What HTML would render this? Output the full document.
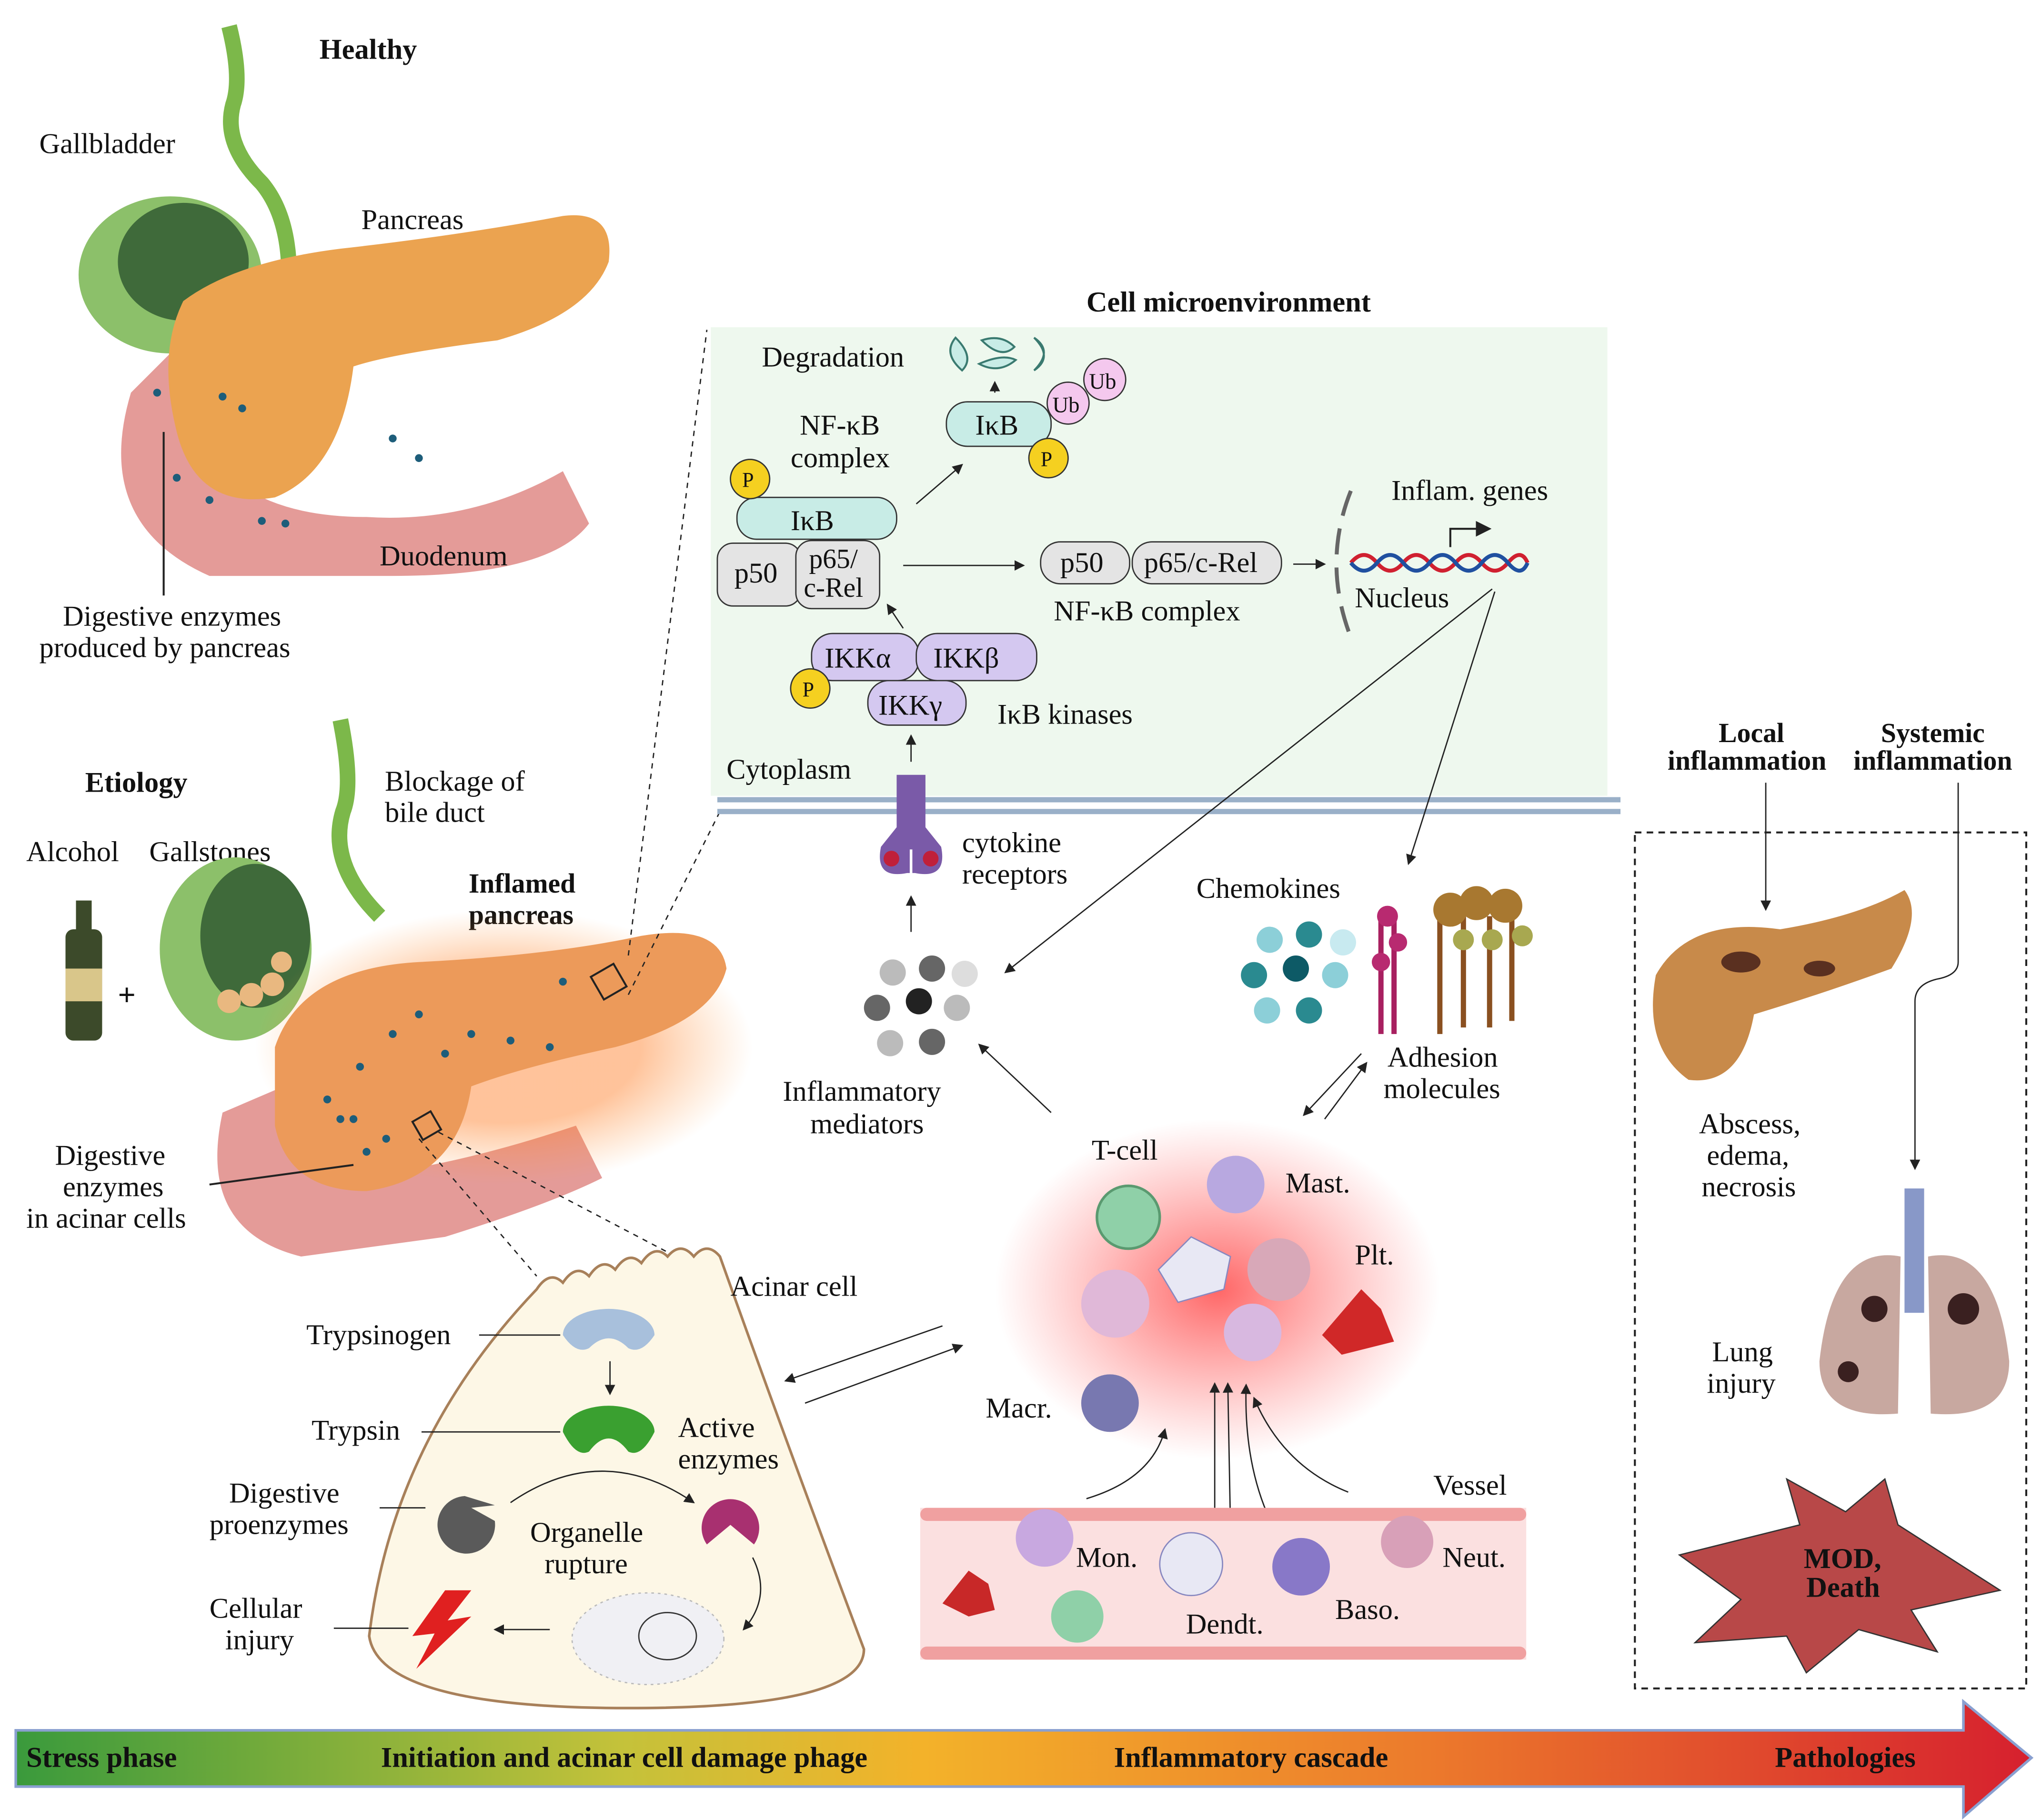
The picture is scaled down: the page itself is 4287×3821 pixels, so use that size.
<!DOCTYPE html>
<html><head><meta charset="utf-8"><style>
html,body{margin:0;padding:0;background:#fff;}
svg{display:block;}
text{font-family:"Liberation Serif",serif;fill:#111;}
.b{font-weight:bold;}
</style></head><body>
<svg width="4287" height="3821" viewBox="0 0 1560 1390.5" xmlns="http://www.w3.org/2000/svg">
<defs>
<linearGradient id="bar" x1="0" x2="1" y1="0" y2="0">
<stop offset="0" stop-color="#3a9a3c"/><stop offset="0.3" stop-color="#c4c23a"/><stop offset="0.45" stop-color="#f3b22a"/><stop offset="0.7" stop-color="#ec7a2c"/><stop offset="1" stop-color="#d6202e"/></linearGradient>
<radialGradient id="glow"><stop offset="0" stop-color="#ff4040" stop-opacity="0.8"/><stop offset="1" stop-color="#ff6060" stop-opacity="0"/></radialGradient>
<radialGradient id="pglow"><stop offset="0.55" stop-color="#ff7a20" stop-opacity="0.45"/><stop offset="1" stop-color="#ff9a40" stop-opacity="0"/></radialGradient>
<marker id="ar" markerWidth="8" markerHeight="8" refX="7" refY="4" orient="auto"><path d="M0,0 L8,4 L0,8 z" fill="#222"/></marker>
</defs>
<rect width="1560" height="1391" fill="#fff"/>

<!-- Healthy -->
<text x="244" y="45" font-size="22" class="b">Healthy</text>
<path d="M175 20 Q185 60 178 80 Q170 110 200 140 Q225 170 220 230" stroke="#7cb84a" stroke-width="12" fill="none"/>
<path d="M100 300 Q70 400 160 440 L300 440 Q420 440 450 400 L430 360 Q360 400 280 395 Q180 395 150 330 Q140 280 160 240 Z" fill="#e49b98"/>
<ellipse cx="130" cy="210" rx="70" ry="60" fill="#8cc06a"/>
<ellipse cx="140" cy="200" rx="50" ry="45" fill="#3f6a3a"/>
<path d="M140 230 Q180 200 260 190 Q350 180 430 165 Q470 160 465 200 Q450 240 380 260 Q300 270 270 280 Q260 360 210 380 Q150 390 135 330 Q120 270 140 230Z" fill="#eba350"/>
<text x="30" y="117" font-size="22">Gallbladder</text>
<text x="276" y="175" font-size="22">Pancreas</text>
<text x="290" y="432" font-size="22">Duodenum</text>
<text x="48" y="478" font-size="22">Digestive enzymes</text>
<text x="30" y="502" font-size="22">produced by pancreas</text>
<line x1="125" y1="330" x2="125" y2="455" stroke="#222" stroke-width="1.5"/>
<g fill="#1d5d7a"><circle cx="120" cy="300" r="3"/><circle cx="135" cy="365" r="3"/><circle cx="170" cy="303" r="3"/><circle cx="185" cy="312" r="3"/><circle cx="300" cy="335" r="3"/><circle cx="320" cy="350" r="3"/><circle cx="200" cy="398" r="3"/><circle cx="218" cy="400" r="3"/><circle cx="160" cy="382" r="3"/></g>

<!-- Etiology -->
<text x="65" y="605" font-size="22" class="b">Etiology</text>
<text x="20" y="658" font-size="22">Alcohol</text>
<text x="114" y="658" font-size="22">Gallstones</text>
<text x="294" y="604" font-size="22">Blockage of</text>
<text x="294" y="628" font-size="22">bile duct</text>
<text x="358" y="682" font-size="21" class="b">Inflamed</text>
<text x="358" y="706" font-size="21" class="b">pancreas</text>
<rect x="50" y="710" width="28" height="85" rx="6" fill="#3c4a2a"/><rect x="58" y="688" width="12" height="30" fill="#3c4a2a"/><rect x="50" y="740" width="28" height="25" fill="#d9c68a"/>
<text x="90" y="768" font-size="24" class="b">+</text>
<path d="M260 550 Q270 600 262 620 Q250 660 290 700" stroke="#7cb84a" stroke-width="12" fill="none"/>
<ellipse cx="180" cy="725" rx="58" ry="70" fill="#8cc06a"/>
<ellipse cx="195" cy="715" rx="42" ry="55" fill="#3f6a3a"/>
<g fill="#e9b880"><circle cx="175" cy="765" r="9"/><circle cx="192" cy="760" r="9"/><circle cx="208" cy="752" r="9"/><circle cx="215" cy="735" r="8"/></g>
<path d="M170 850 Q150 940 230 960 L340 945 Q420 920 460 900 L440 860 Q380 880 330 890 Q260 890 240 820 Z" fill="#e49b98"/>
<ellipse cx="385" cy="800" rx="190" ry="105" fill="url(#pglow)"/>
<path d="M210 800 Q230 740 320 735 Q420 730 490 715 Q550 705 555 740 Q545 780 470 800 Q400 815 360 830 Q350 900 280 910 Q220 910 210 860 Z" fill="#ec9a5a"/>
<g fill="#1d5d7a"><circle cx="250" cy="840" r="3"/><circle cx="270" cy="855" r="3"/><circle cx="295" cy="870" r="3"/><circle cx="280" cy="880" r="3"/><circle cx="300" cy="790" r="3"/><circle cx="320" cy="775" r="3"/><circle cx="340" cy="805" r="3"/><circle cx="360" cy="790" r="3"/><circle cx="390" cy="795" r="3"/><circle cx="420" cy="800" r="3"/><circle cx="430" cy="750" r="3"/><circle cx="275" cy="815" r="3"/><circle cx="260" cy="855" r="3"/></g>
<text x="42" y="890" font-size="22">Digestive</text>
<text x="48" y="914" font-size="22">enzymes</text>
<text x="20" y="938" font-size="22">in acinar cells</text>
<line x1="160" y1="905" x2="270" y2="890" stroke="#222" stroke-width="1.5"/>
<rect x="455" y="740" width="20" height="20" fill="none" stroke="#222" stroke-width="1.5" transform="rotate(-30 465 750)"/>
<rect x="318" y="852" width="16" height="16" fill="none" stroke="#222" stroke-width="1.5" transform="rotate(-30 326 860)"/>
<line x1="480" y1="730" x2="540" y2="252" stroke="#222" stroke-dasharray="4 4"/>
<line x1="480" y1="760" x2="550" y2="620" stroke="#222" stroke-dasharray="4 4"/>
<line x1="320" y1="870" x2="410" y2="975" stroke="#222" stroke-dasharray="4 4"/>
<line x1="335" y1="865" x2="545" y2="975" stroke="#222" stroke-dasharray="4 4"/>

<!-- Cell microenvironment -->
<text x="830" y="238" font-size="22" class="b">Cell microenvironment</text>
<rect x="543" y="250" width="685" height="358" fill="#eef8ee"/>
<line x1="548" y1="611" x2="1238" y2="611" stroke="#9ab0c8" stroke-width="4"/>
<line x1="548" y1="620" x2="1238" y2="620" stroke="#9ab0c8" stroke-width="4"/>
<text x="582" y="280" font-size="22">Degradation</text>
<g fill="#c8ece6" stroke="#3a7a70" stroke-width="1.5"><path d="M730 258 q-10 12 5 25 q10 -10 -5 -25z"/><path d="M750 260 q15 -5 25 5 q-10 10 -25 -5z"/><path d="M748 278 q15 8 28 -3 q-10 -5 -28 3z"/><path d="M790 258 q15 10 0 25 q15 -10 0 -25z"/></g>
<line x1="760" y1="300" x2="760" y2="292" stroke="#222" marker-end="url(#ar)"/>
<rect x="723" y="307" width="80" height="34" rx="16" fill="#c8ece6" stroke="#333"/>
<text x="745" y="332" font-size="22">IκB</text>
<circle cx="816" cy="308" r="16" fill="#f4c8ee" stroke="#333"/><text x="804" y="315" font-size="17">Ub</text>
<circle cx="844" cy="290" r="16" fill="#f4c8ee" stroke="#333"/><text x="832" y="297" font-size="17">Ub</text>
<circle cx="801" cy="350" r="15" fill="#f5d020" stroke="#333"/><text x="795" y="356" font-size="16">P</text>
<text x="611" y="332" font-size="22">NF-κB</text>
<text x="604" y="357" font-size="22">complex</text>
<line x1="700" y1="385" x2="735" y2="355" stroke="#222" marker-end="url(#ar)"/>
<rect x="563" y="380" width="122" height="32" rx="15" fill="#c8ece6" stroke="#333"/>
<text x="604" y="405" font-size="22">IκB</text>
<circle cx="573" cy="366" r="15" fill="#f5d020" stroke="#333"/><text x="567" y="372" font-size="16">P</text>
<rect x="548" y="415" width="64" height="48" rx="12" fill="#e4e4e4" stroke="#333"/>
<text x="561" y="445" font-size="22">p50</text>
<rect x="608" y="413" width="64" height="52" rx="12" fill="#e4e4e4" stroke="#333"/>
<text x="618" y="434" font-size="21">p65/</text><text x="614" y="456" font-size="21">c-Rel</text>
<line x1="690" y1="432" x2="782" y2="432" stroke="#222" marker-end="url(#ar)"/>
<rect x="795" y="414" width="68" height="32" rx="15" fill="#e4e4e4" stroke="#333"/>
<text x="810" y="437" font-size="22">p50</text>
<rect x="865" y="414" width="114" height="32" rx="15" fill="#e4e4e4" stroke="#333"/>
<text x="874" y="437" font-size="22">p65/c-Rel</text>
<text x="805" y="474" font-size="22">NF-κB complex</text>
<line x1="988" y1="431" x2="1012" y2="431" stroke="#222" marker-end="url(#ar)"/>
<path d="M1032 375 Q1010 430 1032 487" stroke="#666" stroke-width="3" fill="none" stroke-dasharray="20 10"/>
<text x="1063" y="382" font-size="22">Inflam. genes</text>
<path d="M1032 430 q10 -12 20 0 t20 0 t20 0 t20 0 t20 0 t20 0 t15 0" stroke="#d02030" stroke-width="3" fill="none"/>
<path d="M1032 430 q10 12 20 0 t20 0 t20 0 t20 0 t20 0 t20 0 t15 0" stroke="#2050a0" stroke-width="3" fill="none"/>
<path d="M1108 418 V404 H1138" stroke="#222" stroke-width="1.5" fill="none" marker-end="url(#ar)"/>
<text x="1035" y="464" font-size="22">Nucleus</text>
<line x1="690" y1="480" x2="678" y2="462" stroke="#222" marker-end="url(#ar)"/>
<rect x="620" y="484" width="82" height="36" rx="16" fill="#d4c8f0" stroke="#333"/>
<text x="630" y="510" font-size="22">IKKα</text>
<rect x="700" y="484" width="92" height="36" rx="16" fill="#d4c8f0" stroke="#333"/>
<text x="713" y="510" font-size="22">IKKβ</text>
<rect x="663" y="520" width="75" height="34" rx="16" fill="#d4c8f0" stroke="#333"/>
<text x="671" y="546" font-size="22">IKKγ</text>
<circle cx="619" cy="526" r="15" fill="#f5d020" stroke="#333"/><text x="613" y="532" font-size="16">P</text>
<text x="762" y="553" font-size="22">IκB kinases</text>
<text x="555" y="595" font-size="22">Cytoplasm</text>
<line x1="696" y1="582" x2="696" y2="562" stroke="#222" marker-end="url(#ar)"/>
<path d="M685 592 h22 v40 l12 15 q5 25 -20 20 h-2 v-18 h-2 v18 h-2 q-25 5 -20 -20 l12 -15 z" fill="#7a5aa8"/>
<circle cx="681" cy="656" r="6" fill="#c0203a"/><circle cx="711" cy="656" r="6" fill="#c0203a"/>
<text x="735" y="651" font-size="22">cytokine</text><text x="735" y="675" font-size="22">receptors</text>
<line x1="696" y1="712" x2="696" y2="685" stroke="#222" marker-end="url(#ar)"/>
<g><circle cx="682" cy="743" r="10" fill="#bbb"/><circle cx="712" cy="740" r="10" fill="#666"/><circle cx="737" cy="744" r="10" fill="#ddd"/><circle cx="670" cy="770" r="10" fill="#666"/><circle cx="702" cy="765" r="10" fill="#222"/><circle cx="731" cy="770" r="10" fill="#bbb"/><circle cx="680" cy="797" r="10" fill="#bbb"/><circle cx="712" cy="796" r="10" fill="#666"/></g>
<text x="598" y="841" font-size="22">Inflammatory</text><text x="619" y="866" font-size="22">mediators</text>
<line x1="1140" y1="450" x2="768" y2="743" stroke="#222" marker-end="url(#ar)"/>
<line x1="1142" y1="452" x2="1076" y2="660" stroke="#222" marker-end="url(#ar)"/>
<text x="914" y="686" font-size="22">Chemokines</text>
<g><circle cx="970" cy="718" r="10" fill="#8ccfd8"/><circle cx="1000" cy="714" r="10" fill="#2a8a90"/><circle cx="1026" cy="720" r="10" fill="#c8eaf0"/><circle cx="958" cy="745" r="10" fill="#2a8a90"/><circle cx="990" cy="740" r="10" fill="#0d5a66"/><circle cx="1020" cy="745" r="10" fill="#8ccfd8"/><circle cx="968" cy="772" r="10" fill="#8ccfd8"/><circle cx="1000" cy="772" r="10" fill="#2a8a90"/></g>
<g stroke="#a82060" stroke-width="4"><line x1="1055" y1="700" x2="1055" y2="790"/><line x1="1065" y1="700" x2="1065" y2="790"/></g>
<g fill="#b82a70"><circle cx="1060" cy="700" r="8"/><circle cx="1068" cy="720" r="7"/><circle cx="1055" cy="735" r="7"/></g>
<g stroke="#8a5020" stroke-width="4"><line x1="1100" y1="700" x2="1100" y2="790"/><line x1="1118" y1="700" x2="1118" y2="785"/><line x1="1138" y1="700" x2="1138" y2="785"/><line x1="1155" y1="700" x2="1155" y2="780"/></g>
<g fill="#a87830"><circle cx="1108" cy="695" r="13"/><circle cx="1128" cy="690" r="13"/><circle cx="1150" cy="692" r="13"/></g>
<g fill="#a8a850"><circle cx="1118" cy="718" r="8"/><circle cx="1140" cy="718" r="8"/><circle cx="1163" cy="715" r="8"/></g>
<text x="1060" y="815" font-size="22">Adhesion</text><text x="1057" y="839" font-size="22">molecules</text>
<line x1="1040" y1="805" x2="996" y2="852" stroke="#222" marker-end="url(#ar)"/>
<line x1="1012" y1="855" x2="1044" y2="812" stroke="#222" marker-end="url(#ar)"/>
<line x1="803" y1="850" x2="748" y2="798" stroke="#222" marker-end="url(#ar)"/>

<!-- Immune cells -->
<ellipse cx="930" cy="985" rx="170" ry="130" fill="url(#glow)"/>
<text x="834" y="886" font-size="22">T-cell</text>
<text x="982" y="911" font-size="22">Mast.</text>
<text x="1035" y="966" font-size="22">Plt.</text>
<text x="753" y="1083" font-size="22">Macr.</text>
<circle cx="862" cy="930" r="24" fill="#8fd0a8" stroke="#5a9a70" stroke-width="2"/>
<circle cx="944" cy="905" r="22" fill="#b8a8e0"/>
<circle cx="852" cy="996" r="26" fill="#e0b8d8"/>
<path d="M910 945 l30 15 l-5 25 l-35 10 l-15 -25 z" fill="#e8e8f4" stroke="#8888c0"/>
<circle cx="977" cy="970" r="24" fill="#d8a8b8"/>
<circle cx="957" cy="1018" r="22" fill="#d8b8e0"/>
<path d="M1040 985 l15 15 l10 25 l-20 5 l-20 5 l-15 -15 z" fill="#d02828"/>
<circle cx="848" cy="1072" r="22" fill="#7878b0"/>
<line x1="928" y1="1165" x2="928" y2="1057" stroke="#222" marker-end="url(#ar)"/>
<line x1="940" y1="1165" x2="938" y2="1057" stroke="#222" marker-end="url(#ar)"/>
<path d="M972 1165 Q950 1120 952 1058" stroke="#222" fill="none" marker-end="url(#ar)"/>
<path d="M1030 1140 Q980 1120 958 1068" stroke="#222" fill="none" marker-end="url(#ar)"/>
<path d="M830 1145 Q880 1130 890 1092" stroke="#222" fill="none" marker-end="url(#ar)"/>

<!-- Vessel -->
<rect x="703" y="1152" width="463" height="116" fill="#fbe0e0"/>
<rect x="703" y="1152" width="463" height="10" rx="5" fill="#f0a0a0"/>
<rect x="703" y="1258" width="463" height="10" rx="5" fill="#f0a0a0"/>
<text x="1095" y="1142" font-size="22">Vessel</text>
<text x="822" y="1197" font-size="22">Mon.</text>
<text x="1102" y="1197" font-size="22">Neut.</text>
<text x="1020" y="1237" font-size="22">Baso.</text>
<text x="906" y="1248" font-size="22">Dendt.</text>
<circle cx="798" cy="1175" r="22" fill="#c8a8e0"/>
<circle cx="910" cy="1195" r="24" fill="#e8e8f4" stroke="#8888c0"/>
<circle cx="994" cy="1197" r="22" fill="#8878c8"/>
<circle cx="1075" cy="1178" r="20" fill="#d8a0b8"/>
<circle cx="823" cy="1235" r="20" fill="#8fd0a8"/>
<path d="M740 1200 l15 10 l5 20 l-20 5 l-20 -10 z" fill="#c82828"/>

<!-- Acinar cell -->
<path d="M410 985 q10 -15 20 -5 q10 -15 20 -5 q10 -15 20 -5 q10 -15 20 -5 q10 -15 20 -5 q10 -12 20 0 q10 -12 20 0 Q600 1100 660 1260 Q660 1305 480 1305 Q290 1305 282 1250 Q300 1100 410 985Z" fill="#fdf7e6" stroke="#a8805a" stroke-width="2"/>
<text x="558" y="990" font-size="22">Acinar cell</text>
<text x="234" y="1027" font-size="22">Trypsinogen</text>
<line x1="366" y1="1020" x2="428" y2="1020" stroke="#222"/>
<path d="M430 1020 a35 20 0 1 1 70 0 q-10 15 -20 10 q-15 -15 -30 0 q-10 5 -20 -10z" fill="#a8c0dc"/>
<line x1="466" y1="1040" x2="466" y2="1065" stroke="#222" marker-end="url(#ar)"/>
<text x="238" y="1100" font-size="22">Trypsin</text>
<line x1="322" y1="1094" x2="428" y2="1094" stroke="#222"/>
<path d="M430 1094 a35 20 0 1 1 70 0 q-10 20 -20 15 q-15 -20 -30 0 q-10 5 -20 -15z" fill="#3aa030"/>
<text x="518" y="1098" font-size="22">Active</text><text x="518" y="1122" font-size="22">enzymes</text>
<text x="175" y="1148" font-size="22">Digestive</text><text x="160" y="1172" font-size="22">proenzymes</text>
<line x1="290" y1="1152" x2="325" y2="1152" stroke="#222"/>
<path d="M378 1150 L355 1143 A22 22 0 1 0 378 1162 L360 1152 Z" fill="#5a5a5a"/>
<path d="M390 1148 Q460 1100 530 1148" stroke="#222" fill="none" marker-end="url(#ar)"/>
<path d="M540 1180 a22 22 0 1 1 36 0 l-18 -15 z" fill="#a83070"/>
<text x="405" y="1178" font-size="22">Organelle</text><text x="416" y="1202" font-size="22">rupture</text>
<path d="M575 1190 Q590 1220 568 1245" stroke="#222" fill="none" marker-end="url(#ar)"/>
<ellipse cx="495" cy="1252" rx="58" ry="35" fill="#f0f0f4" stroke="#bbb" stroke-dasharray="2 3"/>
<ellipse cx="510" cy="1250" rx="22" ry="18" fill="none" stroke="#333"/>
<line x1="420" y1="1245" x2="378" y2="1245" stroke="#222" marker-end="url(#ar)"/>
<path d="M340 1215 L315 1250 L332 1248 L318 1275 L360 1235 L342 1238 L360 1215Z" fill="#e02020"/>
<text x="160" y="1236" font-size="22">Cellular</text><text x="172" y="1260" font-size="22">injury</text>
<line x1="255" y1="1244" x2="312" y2="1244" stroke="#222"/>
<line x1="720" y1="1013" x2="600" y2="1055" stroke="#222" marker-end="url(#ar)"/>
<line x1="615" y1="1072" x2="735" y2="1028" stroke="#222" marker-end="url(#ar)"/>

<!-- Pathologies -->
<text x="1313" y="567" font-size="21" class="b">Local</text>
<text x="1274" y="588" font-size="21" class="b">inflammation</text>
<text x="1437" y="567" font-size="21" class="b">Systemic</text>
<text x="1416" y="588" font-size="21" class="b">inflammation</text>
<rect x="1249" y="636" width="299" height="654" fill="none" stroke="#222" stroke-dasharray="5 4" stroke-width="1.5"/>
<line x1="1349" y1="598" x2="1349" y2="695" stroke="#222" marker-end="url(#ar)"/>
<path d="M1496 598 V735 Q1496 745 1480 748 Q1463 752 1463 765 V893" stroke="#222" fill="none" marker-end="url(#ar)"/>
<path d="M1265 745 Q1290 700 1360 710 Q1420 700 1455 680 Q1470 700 1445 740 Q1390 760 1340 775 Q1330 830 1290 825 Q1255 800 1265 745Z" fill="#c88a4a"/>
<ellipse cx="1330" cy="735" rx="15" ry="8" fill="#5a3020"/><ellipse cx="1390" cy="740" rx="12" ry="6" fill="#5a3020"/>
<text x="1298" y="866" font-size="22">Abscess,</text><text x="1304" y="890" font-size="22">edema,</text><text x="1300" y="914" font-size="22">necrosis</text>
<rect x="1455" y="908" width="15" height="95" fill="#8898c8"/>
<path d="M1452 960 Q1400 950 1390 1040 Q1390 1085 1450 1080 Z" fill="#c8a8a0"/>
<path d="M1473 960 Q1525 950 1535 1040 Q1535 1085 1475 1080 Z" fill="#c8a8a0"/>
<circle cx="1432" cy="1000" r="10" fill="#3a2020"/><circle cx="1500" cy="1000" r="12" fill="#3a2020"/><circle cx="1412" cy="1048" r="8" fill="#3a2020"/>
<text x="1308" y="1040" font-size="22">Lung</text><text x="1304" y="1064" font-size="22">injury</text>
<path d="M1283 1188 L1375 1165 L1365 1130 L1410 1155 L1440 1130 L1450 1165 L1528 1215 L1460 1230 L1480 1262 L1420 1245 L1380 1278 L1365 1250 L1295 1255 L1330 1222 Z" fill="#b84848" stroke="#333"/>
<text x="1378" y="1198" font-size="22" class="b">MOD,</text><text x="1380" y="1220" font-size="22" class="b">Death</text>

<!-- Bottom bar -->
<path d="M12 1322 H1500 V1300 L1552 1343 L1500 1388 V1365 H12 Z" fill="url(#bar)" stroke="#8aa0d0" stroke-width="2"/>
<text x="20" y="1350" font-size="22" class="b">Stress phase</text>
<text x="291" y="1350" font-size="22" class="b">Initiation and acinar cell damage phage</text>
<text x="851" y="1350" font-size="22" class="b">Inflammatory cascade</text>
<text x="1356" y="1350" font-size="22" class="b">Pathologies</text>
</svg>
</body></html>
